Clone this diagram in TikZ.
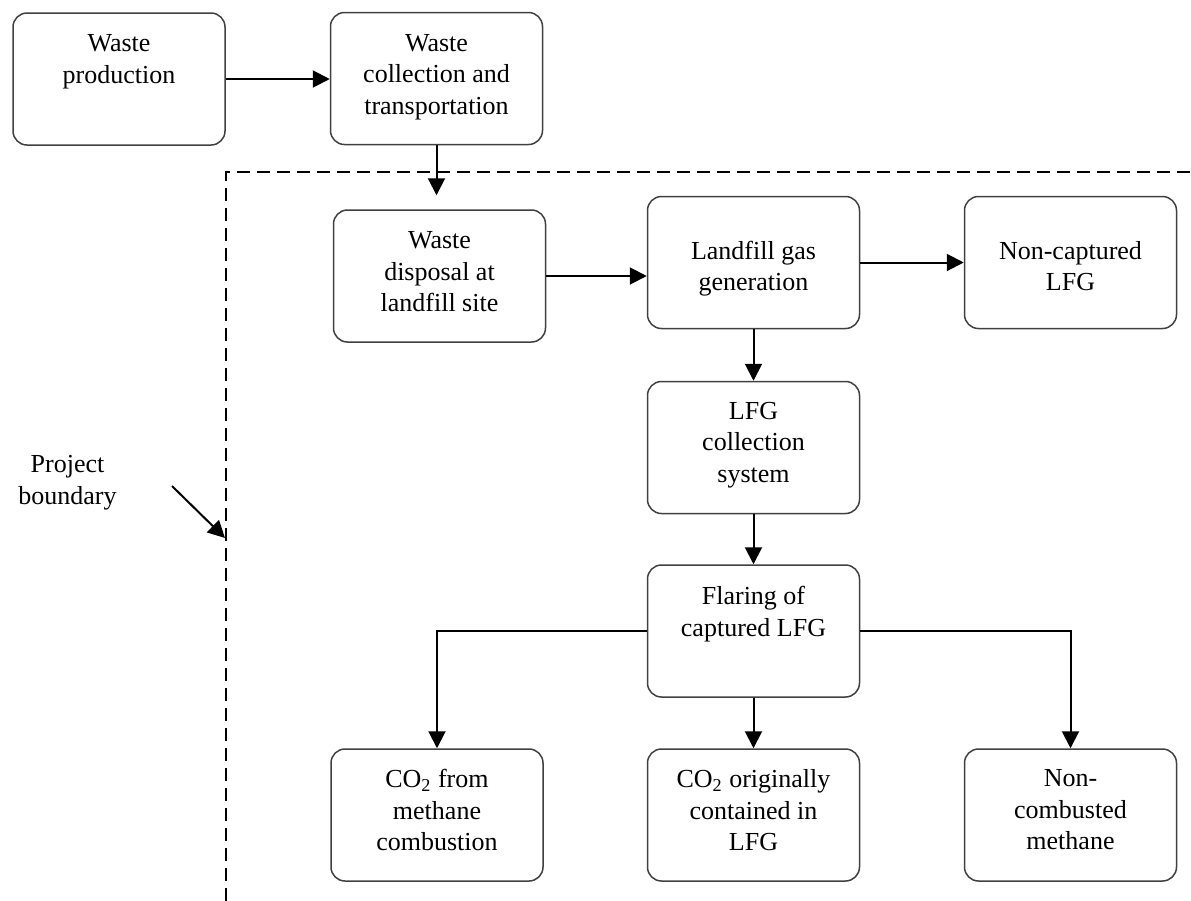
\documentclass[tikz,border=0pt]{standalone}
\usepackage{fontspec}
\setmainfont{Liberation Serif}
\usetikzlibrary{arrows.meta}
\begin{document}
\begin{tikzpicture}[x=0.5pt,y=-0.5pt,
  box/.style={draw=black!75, line width=0.75pt, rounded corners=7pt, minimum width=106pt, minimum height=66pt, inner sep=0pt},
  txt/.style={align=center, anchor=north, inner sep=0pt, font=\fontsize{13pt}{15.75pt}\selectfont},
  arr/.style={line width=1pt, -{Triangle[length=8.5pt,width=8.5pt]}},
  bound/.style={line width=0.9pt, dash pattern=on 6.5pt off 3.5pt}]
\useasboundingbox (0,0) rectangle (1191,901);
% boxes
\node[box] (wp) at (119,79) {};
\node[txt] (wpt) at ([yshift=-11pt]wp.north) {Waste\\production};
\node[box] (wc) at (436.5,78.5) {};
\node[txt] (wct) at ([yshift=-11pt]wc.north) {Waste\\collection and\\transportation};
\node[box] (wd) at (439.5,276) {};
\node[txt] (wdt) at ([yshift=-11pt]wd.north) {Waste\\disposal at\\landfill site};
\node[box] (lg) at (753.5,262.5) {};
\node[txt] (lgt) at ([yshift=-22.5pt]lg.north) {Landfill gas\\generation};
\node[box] (nc) at (1070.5,262.5) {};
\node[txt] (nct) at ([yshift=-22.5pt]nc.north) {Non-captured\\LFG};
\node[box] (lc) at (753.5,447.5) {};
\node[txt] (lct) at ([yshift=-10.5pt]lc.north) {LFG\\collection\\system};
\node[box] (fl) at (753.5,631) {};
\node[txt] (flt) at ([yshift=-11pt]fl.north) {Flaring of\\captured LFG};
\node[box] (ca) at (437,815) {};
\node[txt] (cat) at ([yshift=-10.5pt]ca.north) {CO\textsubscript{2} from\\methane\\combustion};
\node[box] (cb) at (753.5,815) {};
\node[txt] (cbt) at ([yshift=-10.5pt]cb.north) {CO\textsubscript{2} originally\\contained in\\LFG};
\node[box] (nm) at (1070.5,815) {};
\node[txt] (nmt) at ([yshift=-10.5pt]nm.north) {Non-\\combusted\\methane};
% connectors
\draw[arr] (wp.east) -- (wp.east -| wc.west);
\draw[arr, shorten >=7pt] (wc.south) -- (wc.south |- wd.north);
\draw[arr] (wd.east) -- (wd.east -| lg.west);
\draw[arr] (lg.east) -- (lg.east -| nc.west);
\draw[arr] (lg.south) -- (lc.north);
\draw[arr] (lc.south) -- (fl.north);
\draw[arr] (fl.west) -| (ca.north);
\draw[arr] (fl.south) -- (cb.north);
\draw[arr] (fl.east) -| (nm.north);
% project boundary
\coordinate (bl) at (226,901);
\coordinate (bc) at (226,172);
\coordinate (br) at (1191,172);
\draw[bound] (bl) -- (bc) -- (br);
\node[txt] (pb) at (67.5,455) {Project\\boundary};
\coordinate (pbt) at (172,486);
\coordinate (pbh) at (225,538);
\draw[arr] (pbt) -- (pbh);
\end{tikzpicture}
\end{document}
